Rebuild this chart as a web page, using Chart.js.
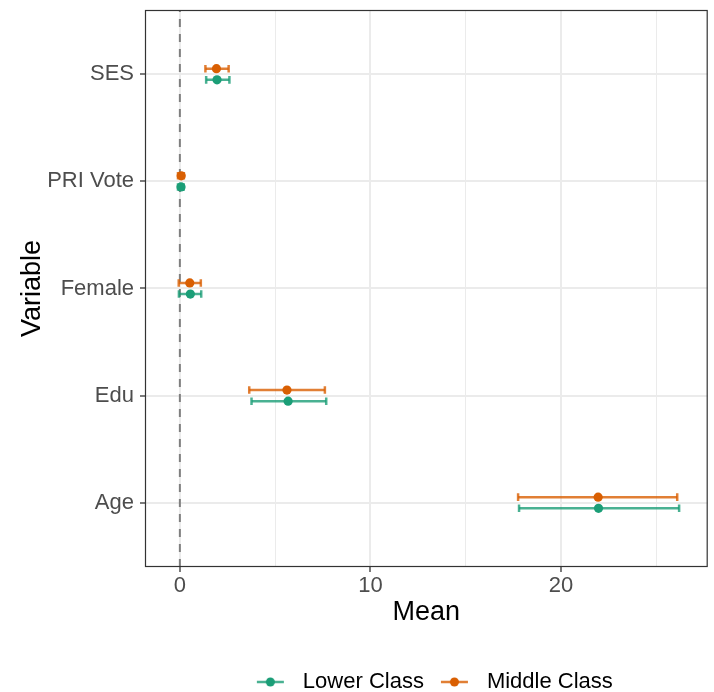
<!DOCTYPE html>
<html>
<head>
<meta charset="utf-8">
<script src="https://cdn.jsdelivr.net/npm/chart.js@4.4.1/dist/chart.umd.min.js"></script>
<style>
  html, body { margin: 0; padding: 0; background: #fff; }
  #wrap { width: 714px; height: 692px; }
</style>
</head>
<body>
<div id="wrap"><canvas id="myChart" width="714" height="692"></canvas></div>
<script>
'use strict';

// bottom to top, like the factor levels
let variables = ['Age', 'Edu', 'Female', 'PRI Vote', 'SES'];
let seriesNames = ['Lower Class', 'Middle Class'];

let lowerMean = [21.97, 5.68, 0.55, 0.06, 1.95];
let lowerLow = [17.8, 3.76, -0.05, -0.1, 1.38];
let lowerHigh = [26.2, 7.68, 1.12, 0.2, 2.6];

let middleMean = [21.95, 5.62, 0.52, 0.07, 1.92];
let middleLow = [17.75, 3.64, -0.06, -0.1, 1.34];
let middleHigh = [26.1, 7.61, 1.1, 0.21, 2.56];

let xTicks = [0, 5, 10, 15, 20, 25];

let green = '#1B9E77';
let orange = '#D95F02';
let greenBar = 'rgba(27, 158, 119, 0.8)';
let orangeBar = 'rgba(217, 95, 2, 0.8)';

let dodge = 0.052;
let fontName = 'Liberation Sans, Arial, sans-serif';

// legend key: bar with a dot, blank room left and right for spacing
let keyLeft = 17;
let keyRight = 8;
let keyWidth = keyLeft + 27 + keyRight;

function legendIcon(barColor, dotColor) {
    let c = document.createElement('canvas');
    c.width = keyWidth;
    c.height = 12;
    let g = c.getContext('2d');
    g.strokeStyle = barColor;
    g.lineWidth = 2.5;
    g.beginPath();
    g.moveTo(keyLeft, 6);
    g.lineTo(keyLeft + 27, 6);
    g.stroke();
    g.fillStyle = dotColor;
    g.beginPath();
    g.arc(keyLeft + 13.5, 6, 4.5, 0, Math.PI * 2);
    g.fill();
    return c;
}

let datasets = [];

// error bars, one small line per variable, caps are rotated 'line' points
function addBars(lows, highs, offset, color) {
    for (let i = 0; i < variables.length; i++) {
        datasets.push({
            type: 'line',
            label: 'bar',
            data: [{ x: lows[i], y: i + 1 + offset }, { x: highs[i], y: i + 1 + offset }],
            borderColor: color,
            borderWidth: 2.5,
            pointStyle: 'line',
            pointRotation: 90,
            pointRadius: 3.8,
            pointBorderWidth: 2.5,
            pointBorderColor: color,
            pointHoverRadius: 3.8,
            order: 5
        });
    }
}
addBars(lowerLow, lowerHigh, -dodge, greenBar);
addBars(middleLow, middleHigh, dodge, orangeBar);

datasets.push({
    type: 'scatter',
    label: seriesNames[0],
    data: lowerMean.map((v, i) => ({ x: v, y: i + 1 - dodge })),
    backgroundColor: green,
    borderWidth: 0,
    pointRadius: 4.6,
    order: 1
});
datasets.push({
    type: 'scatter',
    label: seriesNames[1],
    data: middleMean.map((v, i) => ({ x: v, y: i + 1 + dodge })),
    backgroundColor: orange,
    borderWidth: 0,
    pointRadius: 4.6,
    order: 1
});

// dashed reference line at zero
datasets.push({
    type: 'line',
    label: 'zero',
    data: [{ x: 0, y: 0.4 }, { x: 0, y: 5.6 }],
    borderColor: '#7f7f7f',
    borderWidth: 2,
    borderDash: [8, 7],
    pointRadius: 0,
    order: 10
});

let panelBox = {
    id: 'panelBox',
    afterDatasetsDraw(chart) {
        let a = chart.chartArea;
        let ctx = chart.ctx;
        ctx.save();
        ctx.strokeStyle = '#333333';
        ctx.lineWidth = 1.2;
        ctx.strokeRect(a.left + 0.5, a.top + 0.5, a.right - a.left - 1, a.bottom - a.top - 1);
        ctx.restore();
    }
};

let ctx = document.getElementById('myChart').getContext('2d');
let myChart = new Chart(ctx, {
    data: { datasets: datasets },
    plugins: [panelBox],
    options: {
        responsive: false,
        animation: false,
        layout: { padding: { top: 10, right: 4, left: 0, bottom: -11 } },
        plugins: {
            tooltip: { enabled: false },
            legend: {
                position: 'bottom',
                fullSize: false,
                labels: {
                    usePointStyle: true,
                    pointStyleWidth: keyWidth,
                    boxHeight: 12,
                    padding: 0,
                    color: '#000',
                    font: { family: fontName, size: 22, lineHeight: 1 },
                    generateLabels: function () {
                        return [
                            { text: seriesNames[0], pointStyle: legendIcon(greenBar, green), datasetIndex: 10, fillStyle: green, strokeStyle: green, lineWidth: 0 },
                            { text: seriesNames[1], pointStyle: legendIcon(orangeBar, orange), datasetIndex: 11, fillStyle: orange, strokeStyle: orange, lineWidth: 0 }
                        ];
                    }
                }
            }
        },
        scales: {
            x: {
                type: 'linear',
                min: -1.83,
                max: 27.7,
                afterBuildTicks: (scale) => { scale.ticks = xTicks.map(v => ({ value: v })); },
                afterFit: (scale) => { scale.height = 104; scale.paddingLeft = 0; scale.paddingRight = 0; },
                border: { display: false },
                grid: {
                    color: '#EBEBEB',
                    lineWidth: (c) => (c.tick && c.tick.value % 10 === 0 ? 2 : 1),
                    tickColor: (c) => (c.tick && c.tick.value % 10 === 0 ? '#333333' : 'rgba(0,0,0,0)'),
                    tickLength: 5,
                    tickWidth: 1.3
                },
                ticks: {
                    autoSkip: false,
                    maxRotation: 0,
                    padding: 1,
                    color: '#4D4D4D',
                    font: { family: fontName, size: 22 },
                    callback: (v) => (v % 10 === 0 ? String(v) : '')
                },
                title: {
                    display: true,
                    text: 'Mean',
                    color: '#000',
                    padding: { top: 0, bottom: 42 },
                    font: { family: fontName, size: 27 }
                }
            },
            y: {
                type: 'linear',
                min: 0.4,
                max: 5.6,
                afterBuildTicks: (scale) => { scale.ticks = variables.map((v, i) => ({ value: i + 1 })); },
                afterFit: (scale) => { scale.width = 145; scale.paddingTop = 0; scale.paddingBottom = 0; },
                border: { display: false },
                grid: {
                    color: '#EBEBEB',
                    lineWidth: 2,
                    tickColor: '#333333',
                    tickLength: 5,
                    tickWidth: 1.3
                },
                ticks: {
                    autoSkip: false,
                    padding: 6,
                    color: '#4D4D4D',
                    font: { family: fontName, size: 22 },
                    callback: (v) => variables[Math.round(v) - 1] || ''
                },
                title: {
                    display: true,
                    text: 'Variable',
                    color: '#000',
                    padding: { top: 16, bottom: 0 },
                    font: { family: fontName, size: 27 }
                }
            }
        }
    }
});
</script>
</body>
</html>
